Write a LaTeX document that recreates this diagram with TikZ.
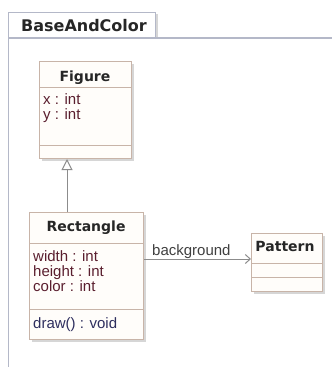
\documentclass[tikz,border=0pt]{standalone}
\usepackage{fontspec}
\setmainfont{Liberation Sans}
\newfontfamily\titlefont{DejaVu Sans}
\usetikzlibrary{arrows.meta,shadows}
\definecolor{boxc}{HTML}{C8B4A8}
\definecolor{boxfill}{HTML}{FFFDFA}
\definecolor{shadowc}{HTML}{D6D6D6}
\definecolor{attrc}{HTML}{5A1E2E}
\definecolor{methc}{HTML}{2E2E5E}
\definecolor{framec}{HTML}{B4B8C8}
\definecolor{linec}{HTML}{8C8C8C}
\begin{document}
\begin{tikzpicture}[x=1pt,y=-1pt,
  cls/.style={draw=boxc, fill=boxfill, line width=1pt, inner sep=0pt, anchor=north west,
    drop shadow={shadow xshift=2.5pt, shadow yshift=-2.5pt, fill=shadowc, opacity=1}},
  sep/.style={draw=boxc, line width=1pt},
  ttl/.style={font=\titlefont\bfseries\fontsize{14}{14}\selectfont, text=black!85, anchor=base, inner sep=0pt},
  attr/.style={font=\fontsize{15}{15}\selectfont, text=attrc, anchor=base west, inner sep=0pt},
  meth/.style={font=\fontsize{15}{15}\selectfont, text=methc, anchor=base west, inner sep=0pt},
  lbl/.style={font=\fontsize{15}{15}\selectfont, text=black!75, anchor=base west, inner sep=0pt},
  conn/.style={draw=linec, line width=1pt},
  tabbox/.style={draw=framec, fill=white, line width=1pt, anchor=north west, inner sep=0pt,
    minimum width=147pt, minimum height=26pt}
]
\useasboundingbox (0,0) rectangle (332,367);
\fill[white] (0,0) rectangle (332,367);
% frame
\draw[framec, line width=1pt] (8,367) -- (8,38);
\fill[shadowc] (155,14) rectangle (158,38);
\node[tabbox] (tab) at (8,12) {};
\node[font=\titlefont\bfseries\fontsize{16}{16}\selectfont, text=black!85, anchor=base, inner sep=0pt] (tabtext) at (84,31) {BaseAndColor};
\draw[framec, line width=2pt] (8,38) -- (332,38);

% Figure
\node[cls, minimum width=92pt, minimum height=97pt] (figure) at (39,61) {};
\draw[sep] (figure.west |- 0,87) -- (figure.east |- 0,87);
\draw[sep] (figure.west |- 0,145) -- (figure.east |- 0,145);
\node[ttl] (figtitle) at (85,81) {Figure};
\node[attr] (figx) at (43,104) {x : int};
\node[attr] (figy) at (43,119) {y : int};

% Rectangle
\node[cls, minimum width=114pt, minimum height=127pt] (rect) at (29,212) {};
\draw[sep] (rect.west |- 0,243) -- (rect.east |- 0,243);
\draw[sep] (rect.west |- 0,309) -- (rect.east |- 0,309);
\node[ttl] (recttitle) at (86,231) {Rectangle};
\node[attr] (rw) at (33,261) {width : int};
\node[attr] (rh) at (33,276) {height : int};
\node[attr] (rc) at (33,291) {color : int};
\node[meth] (rd) at (33,328) {draw() : void};

% Pattern
\node[cls, minimum width=71pt, minimum height=58pt] (pattern) at (251,233) {};
\draw[sep] (pattern.west |- 0,263) -- (pattern.east |- 0,263);
\draw[sep] (pattern.west |- 0,277) -- (pattern.east |- 0,277);
\node[ttl] (pattitle) at (285,251) {Pattern};

% generalization
\draw[conn, -{Triangle[open, length=11pt, width=11pt, fill=white]}] (rect.north -| 67,0) -- (figure.south -| 67,0);
% association
\draw[conn, -{Straight Barb[length=5pt, width=9pt]}] (rect.east |- 0,259) -- (pattern.west |- 0,259);
\node[lbl] (bg) at (152,255) {background};
\end{tikzpicture}
\end{document}
